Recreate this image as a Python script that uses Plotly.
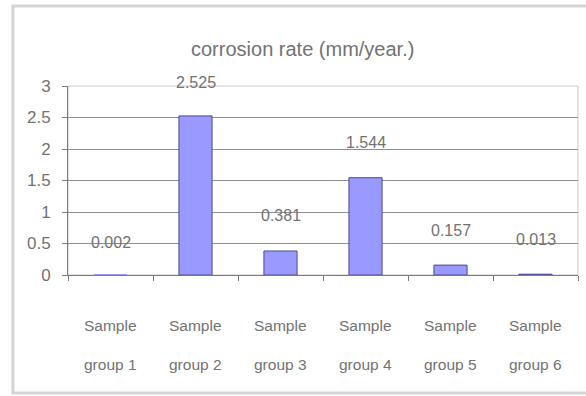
import plotly.graph_objects as go

# Corrosion rate per sample group (mm/year)
groups = ["Sample group 1", "Sample group 2", "Sample group 3",
          "Sample group 4", "Sample group 5", "Sample group 6"]
rates = [0.002, 2.525, 0.381, 1.544, 0.157, 0.013]
y_ticks = [0, 0.5, 1, 1.5, 2, 2.5, 3]
y_tick_text = ["0", "0.5", "1", "1.5", "2", "2.5", "3"]
Y_MAX = 3

# vertical placement of each value label (axis units)
label_heights = [0.52, 3.06, 0.95, 2.10, 0.71, 0.56]

FONT = "Liberation Sans, Arial, sans-serif"
TEXT = "#727272"


def note(x, y, text, size, xref="x"):
    return dict(x=x, y=y, xref=xref, yref="paper", text=text, showarrow=False,
                xanchor="center", yanchor="middle",
                font=dict(size=size, color=TEXT, family=FONT))


fig = go.Figure()
fig.add_trace(go.Bar(
    x=groups, y=rates,
    marker=dict(color="#9999ff",
                line=dict(color="#4a4a8c", width=[0, 1, 1, 1, 1, 1])),
    hoverinfo="skip",
))

annotations = []
for g, r, h in zip(groups, rates, label_heights):
    annotations.append(note(g, h / Y_MAX, f"{r:g}", 16))
    first, second = g.split(" ", 1)
    annotations.append(note(g, -0.265, first, 15.5))
    annotations.append(note(g, -0.471, second, 15.5))

annotations.append(note(0.459, 1.196, "corrosion rate (mm/year.)", 20, xref="paper"))

fig.update_layout(
    width=586, height=396,
    margin=dict(l=68, r=8, t=86, b=121),
    paper_bgcolor="white", plot_bgcolor="white",
    showlegend=False,
    bargap=0.61,
    annotations=annotations,
    shapes=[
        # outer chart frame
        dict(type="rect", xref="paper", yref="paper",
             x0=-0.108, x1=1.03, y0=-0.624, y1=1.423,
             line=dict(color="#d4d4d4", width=3), layer="below"),
        # plot area frame
        dict(type="rect", xref="paper", yref="paper",
             x0=0, x1=1, y0=0, y1=1,
             line=dict(color="#c8c8c8", width=1), layer="below"),
    ],
    xaxis=dict(
        type="category", showticklabels=False,
        ticks="outside", ticklen=5, tickcolor="#7a7a7a", tickson="boundaries",
        showline=True, linecolor="#7a7a7a", linewidth=1,
        showgrid=False, zeroline=False, fixedrange=True,
    ),
    yaxis=dict(
        range=[0, Y_MAX], tickvals=y_ticks, ticktext=y_tick_text,
        ticks="outside", ticklen=5, tickcolor="#7a7a7a",
        showline=True, linecolor="#7a7a7a", linewidth=1,
        showgrid=True, gridcolor="#8f8f8f", gridwidth=1,
        zeroline=False, fixedrange=True, ticklabelstandoff=8,
        tickfont=dict(size=17, color=TEXT, family=FONT),
    ),
)

fig.write_html("out.html", config={"displayModeBar": False})
